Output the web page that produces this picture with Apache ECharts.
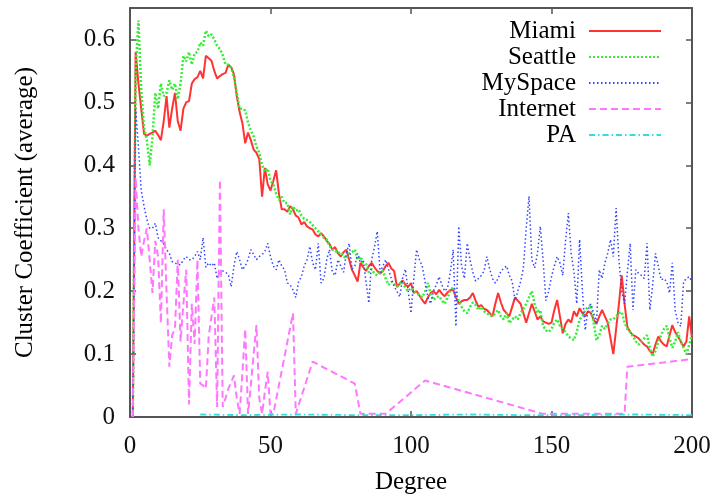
<!DOCTYPE html>
<html>
<head>
<meta charset="utf-8">
<script src="https://cdn.jsdelivr.net/npm/echarts@6/dist/echarts.min.js"></script>
<style>
  html, body { margin: 0; padding: 0; background: #fff; }
  #chart { width: 717px; height: 496px; }
</style>
</head>
<body>
<div id="chart"></div>
<script>
// Average clustering coefficient per node degree, one [degree, value] list per network
const miami = [[1,0],[2,0.58],[3,0.53],[4,0.49],[5,0.45],[6,0.447],[7,0.45],[8,0.452],[9,0.455],[10,0.448],[11,0.44],[12,0.47],[13,0.51],[14,0.46],[15,0.49],[16,0.515],[17,0.47],[18,0.455],[19,0.49],[20,0.50],[21,0.502],[22,0.53],[23,0.537],[24,0.54],[25,0.55],[26,0.538],[27,0.574],[28,0.57],[29,0.566],[30,0.55],[31,0.538],[32,0.542],[33,0.545],[34,0.547],[35,0.56],[36,0.556],[37,0.545],[38,0.51],[39,0.485],[40,0.467],[41,0.435],[42,0.452],[43,0.44],[44,0.425],[45,0.42],[46,0.41],[47,0.35],[48,0.396],[49,0.37],[50,0.36],[51,0.375],[52,0.392],[53,0.355],[54,0.33],[55,0.33],[56,0.326],[57,0.335],[58,0.33],[59,0.32],[60,0.317],[61,0.306],[62,0.31],[63,0.303],[64,0.30],[65,0.298],[66,0.29],[67,0.287],[68,0.292],[69,0.287],[70,0.28],[71,0.275],[72,0.266],[73,0.27],[74,0.26],[75,0.255],[76,0.262],[77,0.266],[78,0.25],[79,0.234],[80,0.225],[81,0.215],[82,0.245],[83,0.238],[84,0.232],[85,0.24],[86,0.245],[87,0.238],[88,0.232],[89,0.228],[90,0.232],[91,0.24],[92,0.245],[93,0.236],[94,0.232],[95,0.207],[96,0.212],[97,0.217],[98,0.21],[99,0.207],[100,0.213],[101,0.197],[102,0.2],[103,0.193],[104,0.186],[105,0.18],[106,0.19],[107,0.197],[108,0.2],[109,0.195],[110,0.202],[111,0.196],[112,0.192],[113,0.198],[114,0.202],[115,0.202],[116,0.19],[117,0.18],[118,0.184],[119,0.186],[120,0.186],[121,0.19],[122,0.197],[123,0.185],[124,0.175],[125,0.178],[126,0.172],[127,0.17],[128,0.165],[129,0.16],[130,0.18],[131,0.197],[132,0.182],[133,0.17],[134,0.165],[135,0.16],[136,0.175],[137,0.19],[138,0.185],[139,0.18],[140,0.165],[141,0.15],[142,0.165],[143,0.18],[144,0.168],[145,0.155],[146,0.16],[147,0.152],[148,0.15],[149,0.148],[150,0.15],[151,0.17],[152,0.186],[153,0.16],[154,0.133],[155,0.148],[156,0.155],[157,0.15],[158,0.168],[159,0.16],[160,0.173],[161,0.165],[162,0.16],[163,0.168],[164,0.165],[165,0.155],[166,0.148],[167,0.16],[168,0.17],[169,0.16],[170,0.15],[171,0.125],[172,0.10],[173,0.14],[174,0.18],[175,0.225],[176,0.18],[177,0.143],[178,0.135],[179,0.13],[180,0.128],[181,0.125],[182,0.12],[183,0.115],[184,0.112],[185,0.105],[186,0.10],[187,0.115],[188,0.128],[189,0.12],[190,0.115],[191,0.112],[192,0.13],[193,0.146],[194,0.135],[195,0.128],[196,0.12],[197,0.112],[198,0.12],[199,0.16],[200,0.125]];

const seattle = [[1,0],[2,0.55],[3,0.63],[4,0.52],[5,0.46],[6,0.44],[7,0.40],[8,0.445],[9,0.515],[10,0.49],[11,0.53],[12,0.51],[13,0.515],[14,0.535],[15,0.52],[16,0.53],[17,0.505],[18,0.53],[19,0.574],[20,0.565],[21,0.58],[22,0.56],[23,0.578],[24,0.58],[25,0.595],[26,0.59],[27,0.614],[28,0.605],[29,0.608],[30,0.6],[31,0.59],[32,0.585],[33,0.575],[34,0.56],[35,0.56],[36,0.555],[37,0.54],[38,0.515],[39,0.49],[40,0.49],[41,0.487],[42,0.468],[43,0.455],[44,0.446],[45,0.43],[46,0.42],[47,0.4],[48,0.39],[49,0.395],[50,0.375],[51,0.37],[52,0.355],[53,0.345],[54,0.35],[55,0.34],[56,0.34],[57,0.322],[58,0.335],[59,0.328],[60,0.33],[61,0.32],[62,0.315],[63,0.313],[64,0.31],[65,0.305],[66,0.3],[67,0.295],[68,0.29],[69,0.285],[70,0.282],[71,0.272],[72,0.266],[73,0.265],[74,0.26],[75,0.262],[76,0.255],[77,0.252],[78,0.26],[79,0.262],[80,0.266],[81,0.25],[82,0.255],[83,0.245],[84,0.243],[85,0.23],[86,0.235],[87,0.228],[88,0.225],[89,0.23],[90,0.232],[91,0.22],[92,0.21],[93,0.215],[94,0.212],[95,0.207],[96,0.212],[97,0.215],[98,0.205],[99,0.2],[100,0.205],[101,0.2],[102,0.198],[103,0.193],[104,0.19],[105,0.2],[106,0.213],[107,0.195],[108,0.186],[109,0.19],[110,0.192],[111,0.185],[112,0.18],[113,0.19],[114,0.2],[115,0.207],[116,0.195],[117,0.185],[118,0.175],[119,0.168],[120,0.165],[121,0.175],[122,0.182],[123,0.178],[124,0.17],[125,0.175],[126,0.168],[127,0.165],[128,0.162],[129,0.16],[130,0.165],[131,0.17],[132,0.16],[133,0.155],[134,0.165],[135,0.149],[136,0.155],[137,0.16],[138,0.155],[139,0.165],[140,0.172],[141,0.18],[142,0.19],[143,0.2],[144,0.18],[145,0.165],[146,0.17],[147,0.145],[148,0.138],[149,0.135],[150,0.14],[151,0.15],[152,0.155],[153,0.145],[154,0.14],[155,0.135],[156,0.128],[157,0.125],[158,0.122],[159,0.135],[160,0.155],[161,0.16],[162,0.17],[163,0.175],[164,0.178],[165,0.15],[166,0.122],[167,0.13],[168,0.145],[169,0.14],[170,0.148],[171,0.155],[172,0.155],[173,0.16],[174,0.165],[175,0.167],[176,0.15],[177,0.14],[178,0.135],[179,0.128],[180,0.12],[181,0.115],[182,0.12],[183,0.125],[184,0.13],[185,0.11],[186,0.096],[187,0.105],[188,0.12],[189,0.13],[190,0.14],[191,0.145],[192,0.125],[193,0.11],[194,0.12],[195,0.135],[196,0.12],[197,0.11],[198,0.1],[199,0.115],[200,0.13]];

const myspace = [[1,0],[2,0.49],[3,0.43],[4,0.36],[5,0.335],[6,0.314],[7,0.30],[8,0.30],[9,0.308],[10,0.285],[11,0.28],[12,0.275],[13,0.266],[14,0.26],[15,0.247],[16,0.245],[17,0.242],[18,0.242],[19,0.25],[20,0.255],[21,0.25],[22,0.25],[23,0.255],[24,0.263],[25,0.25],[26,0.285],[27,0.238],[28,0.245],[29,0.24],[30,0.245],[31,0.22],[32,0.228],[33,0.232],[34,0.23],[35,0.226],[36,0.207],[37,0.24],[38,0.263],[39,0.25],[40,0.234],[41,0.24],[42,0.25],[43,0.266],[44,0.258],[45,0.25],[46,0.255],[47,0.258],[48,0.263],[49,0.276],[50,0.255],[51,0.24],[52,0.234],[53,0.25],[54,0.24],[55,0.234],[56,0.213],[57,0.21],[58,0.202],[59,0.19],[60,0.215],[61,0.223],[62,0.24],[63,0.25],[64,0.271],[65,0.245],[66,0.234],[67,0.276],[68,0.213],[69,0.22],[70,0.25],[71,0.266],[72,0.23],[73,0.225],[74,0.25],[75,0.24],[76,0.23],[77,0.26],[78,0.276],[79,0.235],[80,0.24],[81,0.26],[82,0.245],[83,0.25],[84,0.215],[85,0.181],[86,0.25],[87,0.27],[88,0.295],[89,0.23],[90,0.24],[91,0.25],[92,0.235],[93,0.22],[94,0.207],[95,0.2],[96,0.191],[97,0.22],[98,0.235],[99,0.2],[100,0.165],[101,0.22],[102,0.266],[103,0.25],[104,0.24],[105,0.215],[106,0.19],[107,0.18],[108,0.2],[109,0.21],[110,0.223],[111,0.21],[112,0.2],[113,0.205],[114,0.23],[115,0.266],[116,0.144],[117,0.303],[118,0.24],[119,0.22],[120,0.276],[121,0.25],[122,0.23],[123,0.216],[124,0.22],[125,0.225],[126,0.232],[127,0.255],[128,0.235],[129,0.22],[130,0.213],[131,0.22],[132,0.232],[133,0.236],[134,0.24],[135,0.225],[136,0.216],[137,0.185],[138,0.2],[139,0.215],[140,0.237],[141,0.3],[142,0.351],[143,0.25],[144,0.237],[145,0.26],[146,0.303],[147,0.25],[148,0.185],[149,0.2],[150,0.223],[151,0.24],[152,0.255],[153,0.245],[154,0.225],[155,0.28],[156,0.324],[157,0.26],[158,0.23],[159,0.18],[160,0.282],[161,0.2],[162,0.138],[163,0.17],[164,0.18],[165,0.165],[166,0.15],[167,0.234],[168,0.22],[169,0.245],[170,0.26],[171,0.282],[172,0.255],[173,0.332],[174,0.25],[175,0.2],[176,0.18],[177,0.23],[178,0.276],[179,0.17],[180,0.234],[181,0.228],[182,0.225],[183,0.22],[184,0.276],[185,0.17],[186,0.21],[187,0.26],[188,0.24],[189,0.218],[190,0.22],[191,0.215],[192,0.197],[193,0.245],[194,0.17],[195,0.15],[196,0.144],[197,0.215],[198,0.22],[199,0.223],[200,0.215]];

const internet = [[1,0],[2,0.38],[3,0.30],[4,0.255],[5,0.28],[6,0.30],[7,0.25],[8,0.197],[9,0.28],[10,0.255],[11,0.149],[12,0.33],[13,0.2],[14,0.08],[15,0.13],[16,0.14],[17,0.25],[18,0.12],[19,0.18],[20,0.234],[21,0.02],[22,0.18],[23,0.116],[24,0.25],[25,0.053],[26,0.05],[27,0.045],[28,0.128],[29,0.16],[30,0.19],[31,0.016],[32,0.377],[33,0.016],[34,0.03],[35,0.045],[36,0.055],[37,0.066],[38,0.03],[39,0.005],[40,0.07],[41,0.14],[42,0.005],[43,0.05],[44,0.1],[45,0.146],[46,0.03],[47,0.005],[48,0.04],[49,0.072],[50,0.005],[51,0.005],[58,0.165],[59,0.005],[65,0.088],[80,0.053],[82,0.005],[91,0.005],[105,0.058],[147,0.005],[176,0.005],[177,0.08],[200,0.092]];

const pa = [[25,0.004],[40,0.003],[60,0.004],[80,0.003],[100,0.003],[120,0.004],[140,0.003],[160,0.003],[180,0.004],[200,0.003]];

const seriesNames = ['Miami', 'Seattle', 'MySpace', 'Internet', 'PA'];
const xTicks = { min: 0, max: 200, step: 50 };
const yTicks = { min: 0, max: 0.65, step: 0.1 };

const serif = "'Liberation Serif', 'DejaVu Serif', serif";
const frame = '#555';

const chart = echarts.init(document.getElementById('chart'), null, { renderer: 'canvas' });

function lineSeries(name, data, color, width, dash) {
  return {
    name: name,
    type: 'line',
    data: data,
    symbol: 'none',
    smooth: false,
    lineStyle: { color: color, width: width, type: dash },
    itemStyle: { color: color },
    emphasis: { disabled: true }
  };
}

const option = {
  animation: false,
  backgroundColor: '#fff',
  grid: { left: 130, right: 25, top: 8, bottom: 79, containLabel: false, outerBoundsMode: 'none' },
  legend: {
    orient: 'vertical',
    right: 50,
    top: 13,
    align: 'right',
    itemWidth: 72,
    itemHeight: 14,
    itemGap: 0,
    selectedMode: false,
    data: seriesNames,
    itemStyle: { opacity: 0 },
    textStyle: { fontFamily: serif, fontSize: 25, color: '#000', lineHeight: 26, padding: [0, 8, 0, 0] }
  },
  xAxis: [
    {
      type: 'value', position: 'bottom',
      min: xTicks.min, max: xTicks.max, interval: xTicks.step,
      name: 'Degree', nameLocation: 'middle', nameGap: 53,
      nameTextStyle: { fontFamily: serif, fontSize: 25, color: '#000' },
      axisLine: { onZero: false, lineStyle: { color: frame, width: 2 } },
      axisTick: { inside: true, length: 6, lineStyle: { color: frame, width: 1.5 } },
      axisLabel: { fontFamily: serif, fontSize: 25, color: '#111', margin: 17 },
      splitLine: { show: false }
    },
    {
      type: 'value', position: 'top',
      min: xTicks.min, max: xTicks.max, interval: xTicks.step,
      axisLine: { onZero: false, lineStyle: { color: frame, width: 2 } },
      axisTick: { inside: true, length: 6, lineStyle: { color: frame, width: 1.5 } },
      axisLabel: { show: false },
      splitLine: { show: false }
    }
  ],
  yAxis: [
    {
      type: 'value', position: 'left',
      min: yTicks.min, max: yTicks.max, interval: yTicks.step,
      name: 'Cluster Coefficient (average)', nameLocation: 'middle', nameGap: 92, nameRotate: 90,
      nameTextStyle: { fontFamily: serif, fontSize: 25, color: '#000' },
      axisLine: { onZero: false, lineStyle: { color: frame, width: 2 } },
      axisTick: { inside: true, length: 6, lineStyle: { color: frame, width: 1.5 } },
      axisLabel: { fontFamily: serif, fontSize: 25, color: '#111', margin: 15, showMaxLabel: false,
        formatter: v => String(Math.round(v * 10) / 10) },
      splitLine: { show: false }
    },
    {
      type: 'value', position: 'right',
      min: yTicks.min, max: yTicks.max, interval: yTicks.step,
      axisLine: { onZero: false, lineStyle: { color: frame, width: 2 } },
      axisTick: { inside: true, length: 6, lineStyle: { color: frame, width: 1.5 } },
      axisLabel: { show: false },
      splitLine: { show: false }
    }
  ],
  series: [
    lineSeries('Miami', miami, '#ff3333', 2, 'solid'),
    lineSeries('Seattle', seattle, '#33ee33', 2.5, [2, 2]),
    lineSeries('MySpace', myspace, '#3344ff', 1.5, [1.5, 2.5]),
    lineSeries('Internet', internet, '#ff77ff', 2, [7, 4]),
    lineSeries('PA', pa, '#33dddd', 1.8, [6, 3, 1.5, 3])
  ]
};

chart.setOption(option);
</script>
</body>
</html>
